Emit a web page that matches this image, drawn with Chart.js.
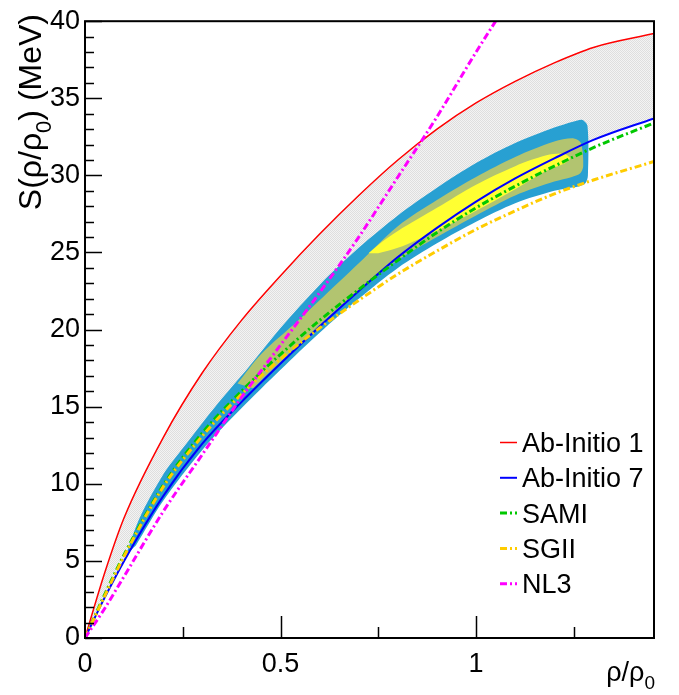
<!DOCTYPE html>
<html>
<head>
<meta charset="utf-8">
<script src="https://cdn.jsdelivr.net/npm/chart.js@4.4.0/dist/chart.umd.min.js"></script>
<style>
  html, body { margin: 0; padding: 0; background: #fff; }
  #wrap { width: 679px; height: 695px; }
</style>
</head>
<body>
<div id="wrap"><canvas id="graph01" width="679" height="695"></canvas></div>
<script>
// density grid (rho/rho0) shared by the model curves
const rhoGrid = [0, 0.05, 0.1, 0.2, 0.3, 0.4, 0.5, 0.6, 0.7, 0.8, 0.9, 1.0, 1.1, 1.2, 1.3, 1.455];

const abInitio1 = [0, 4.2, 7.8, 13.0, 17.2, 20.6, 23.5, 26.2, 28.7, 31.0, 33.0, 34.7, 36.1, 37.3, 38.3, 39.2];
const abInitio7 = [0, 2.6, 5.0, 9.2, 12.6, 15.3, 17.8, 20.2, 22.5, 24.7, 26.6, 28.3, 29.8, 31.1, 32.3, 33.7];
const sami = [0, 2.8, 5.4, 9.9, 13.3, 16.0, 18.4, 20.6, 22.6, 24.5, 26.3, 27.9, 29.3, 30.6, 31.8, 33.4];
const sgii = [0, 2.7, 5.3, 9.8, 13.1, 15.8, 18.1, 20.1, 21.9, 23.6, 25.1, 26.5, 27.7, 28.8, 29.7, 30.9];

// NL3 leaves the frame at the top
const nl3Rho = [0, 0.05, 0.1, 0.2, 0.3, 0.4, 0.5, 0.6, 0.7, 0.8, 0.9, 1.0, 1.05];
const nl3 = [0, 1.9, 4.0, 8.2, 11.9, 15.6, 19.0, 22.4, 26.0, 29.9, 33.8, 38.0, 40.0];

// constraint contours (outer, middle, inner), traced as closed outlines
const contour1Rho = [0.105, 0.14, 0.2, 0.25, 0.33, 0.42, 0.5, 0.6, 0.7, 0.8, 0.9, 1.0, 1.1, 1.2, 1.25, 1.272, 1.285, 1.286, 1.28, 1.265, 1.24, 1.2, 1.1, 1.0, 0.9, 0.8, 0.7, 0.6, 0.5, 0.4, 0.3, 0.2, 0.13];
const contour1S = [5.4, 7.8, 10.6, 12.3, 14.9, 17.6, 20.1, 22.9, 25.3, 27.4, 29.2, 30.8, 32.1, 33.1, 33.5, 33.6, 33.2, 30.0, 29.5, 29.3, 29.2, 29.0, 28.2, 27.0, 25.6, 24.0, 22.0, 19.8, 17.4, 14.9, 12.2, 8.9, 6.0];

const contour2Rho = [0.39, 0.45, 0.546, 0.6, 0.7, 0.8, 0.9, 1.0, 1.1, 1.2, 1.25, 1.268, 1.274, 1.265, 1.245, 1.2, 1.1, 1.0, 0.9, 0.8, 0.7, 0.6, 0.5, 0.43];
const contour2S = [16.5, 18.4, 20.6, 21.9, 24.3, 26.7, 28.4, 29.9, 31.2, 32.2, 32.4, 32.1, 30.6, 30.1, 29.9, 29.6, 28.7, 27.4, 26.0, 24.5, 22.5, 20.3, 17.9, 16.2];

const contour3Rho = [0.725, 0.76, 0.8, 0.9, 1.0, 1.1, 1.18, 1.225, 1.24, 1.22, 1.18, 1.1, 1.0, 0.9, 0.8, 0.75];
const contour3S = [24.95, 25.7, 26.4, 27.9, 29.4, 30.6, 31.3, 31.4, 31.1, 30.7, 30.3, 29.1, 27.7, 26.4, 25.3, 24.95];

const xTicks = { min: 0, max: 1.455, step: 0.5, minor: 0.25 };
const yTicks = { min: 0, max: 40, step: 5, minor: 1 };

const legendLabels = ['Ab-Initio 1', 'Ab-Initio 7', 'SAMI', 'SGII', 'NL3'];

const FONT = '"Liberation Sans", Arial, Helvetica, sans-serif';

function toPoints(xs, ys) {
  return xs.map((x, i) => ({ x: x, y: ys[i] }));
}

const canvas = document.getElementById('graph01');
const mainCtx = canvas.getContext('2d');

// light grey checker, like the ROOT hatch of the band
function makeHatch() {
  const c = document.createElement('canvas');
  c.width = 2; c.height = 2;
  const g = c.getContext('2d');
  g.fillStyle = '#f3f3f3';
  g.fillRect(0, 0, 2, 2);
  g.fillStyle = '#dedede';
  g.fillRect(0, 0, 1, 1);
  g.fillRect(1, 1, 1, 1);
  return mainCtx.createPattern(c, 'repeat');
}

const dashDot = [7, 3, 2, 3];

const datasets = [
  {
    label: 'NL3', data: toPoints(nl3Rho, nl3),
    borderColor: 'rgb(255,0,255)', borderWidth: 3, borderDash: dashDot,
    cubicInterpolationMode: 'monotone', fill: false, order: 0
  },
  {
    label: 'SGII', data: toPoints(rhoGrid, sgii),
    borderColor: 'rgb(255,204,0)', borderWidth: 3, borderDash: dashDot,
    cubicInterpolationMode: 'monotone', fill: false, order: 1
  },
  {
    label: 'SAMI', data: toPoints(rhoGrid, sami),
    borderColor: 'rgb(0,200,0)', borderWidth: 3, borderDash: dashDot,
    cubicInterpolationMode: 'monotone', fill: false, order: 2
  },
  {
    label: 'Ab-Initio 7', data: toPoints(rhoGrid, abInitio7),
    borderColor: 'rgb(0,0,255)', borderWidth: 2,
    cubicInterpolationMode: 'monotone', fill: false, order: 3
  },
  {
    label: 'inner', data: toPoints(contour3Rho, contour3S),
    borderWidth: 0, backgroundColor: 'rgb(255,255,50)', tension: 0.3,
    fill: 'shape', order: 5
  },
  {
    label: 'middle', data: toPoints(contour2Rho, contour2S),
    borderWidth: 0, backgroundColor: 'rgb(178,196,112)', tension: 0.3,
    fill: 'shape', order: 6
  },
  {
    label: 'outer', data: toPoints(contour1Rho, contour1S),
    borderWidth: 0, backgroundColor: 'rgb(40,160,210)', tension: 0.3,
    fill: 'shape', order: 7
  },
  {
    label: 'Ab-Initio 1', data: toPoints(rhoGrid, abInitio1),
    borderColor: 'rgb(255,0,0)', borderWidth: 1.5,
    cubicInterpolationMode: 'monotone',
    fill: { target: 3 }, backgroundColor: makeHatch(), order: 8
  }
];

function drawParts(ctx, parts, size) {
  let w = 0;
  parts.forEach(p => {
    ctx.font = (p.sub ? Math.round(size * 0.7) : size) + 'px ' + FONT;
    w += ctx.measureText(p.t).width;
  });
  let x = -w;
  parts.forEach(p => {
    ctx.font = (p.sub ? Math.round(size * 0.7) : size) + 'px ' + FONT;
    ctx.fillText(p.t, x, p.sub ? size * 0.3 : 0);
    x += ctx.measureText(p.t).width;
  });
}

const rootStyle = {
  id: 'rootStyle',
  afterDatasetsDraw(chart) {
    const ctx = chart.ctx;
    const a = chart.chartArea;
    const xs = chart.scales.x, ys = chart.scales.y;
    ctx.save();
    ctx.strokeStyle = '#000';
    ctx.lineWidth = 2;
    ctx.setLineDash([]);
    ctx.strokeRect(a.left, a.top, a.right - a.left, a.bottom - a.top);
    ctx.lineWidth = 1.5;
    ctx.beginPath();
    for (let v = yTicks.min; v <= yTicks.max + 1e-9; v += yTicks.minor) {
      const py = Math.round(ys.getPixelForValue(v)) + 0.5;
      const len = Math.abs(v % yTicks.step) < 1e-6 ? 17 : 9;
      ctx.moveTo(a.left, py);
      ctx.lineTo(a.left + len, py);
    }
    for (let v = xTicks.minor; v <= xTicks.max; v += xTicks.minor) {
      const px = Math.round(xs.getPixelForValue(v)) + 0.5;
      const len = Math.abs(v / xTicks.step - Math.round(v / xTicks.step)) < 1e-6 ? 22 : 11;
      ctx.moveTo(px, a.bottom);
      ctx.lineTo(px, a.bottom - len);
    }
    ctx.stroke();
    ctx.restore();
  },
  afterDraw(chart) {
    const ctx = chart.ctx;
    ctx.save();
    ctx.fillStyle = '#000';
    ctx.textBaseline = 'alphabetic';
    ctx.textAlign = 'left';

    // y title, rotated, flush with the top of the frame
    ctx.save();
    ctx.translate(41, 14);
    ctx.rotate(-Math.PI / 2);
    drawParts(ctx, [{ t: 'S(ρ/ρ' }, { t: '0', sub: true }, { t: ') (MeV)' }], 32);
    ctx.restore();

    // x title, flush with the right of the frame
    ctx.save();
    ctx.translate(655, 681);
    drawParts(ctx, [{ t: 'ρ/ρ' }, { t: '0', sub: true }], 27);
    ctx.restore();

    // legend
    ctx.font = '27px ' + FONT;
    legendLabels.forEach((name, i) => {
      const ds = chart.data.datasets.find(d => d.label === name);
      const base = 452 + i * 35.3;
      ctx.strokeStyle = ds.borderColor;
      ctx.lineWidth = ds.borderWidth;
      ctx.setLineDash(ds.borderDash || []);
      ctx.beginPath();
      ctx.moveTo(500, base - 9.5);
      ctx.lineTo(517, base - 9.5);
      ctx.stroke();
      ctx.fillText(name, 522, base);
    });
    ctx.restore();
  }
};

new Chart(canvas, {
  type: 'line',
  data: { datasets: datasets },
  options: {
    responsive: false,
    devicePixelRatio: 1,
    animation: false,
    layout: { padding: { top: 16, right: 25, left: 0, bottom: 0 } },
    elements: { point: { radius: 0, hoverRadius: 0 } },
    plugins: {
      legend: { display: false },
      tooltip: { enabled: false },
      filler: { propagate: false }
    },
    scales: {
      x: {
        type: 'linear',
        min: xTicks.min, max: xTicks.max,
        grid: { display: false, drawTicks: false },
        border: { display: false },
        ticks: {
          stepSize: xTicks.step, includeBounds: false, padding: 10,
          color: '#000', font: { family: FONT, size: 27 }, maxRotation: 0,
          callback: v => String(+v.toFixed(2))
        },
        afterFit(scale) { scale.height = 57; }
      },
      y: {
        min: yTicks.min, max: yTicks.max,
        grid: { display: false, drawTicks: false },
        border: { display: false },
        ticks: {
          stepSize: yTicks.step, includeBounds: false, padding: 5,
          color: '#000', font: { family: FONT, size: 27 }
        },
        afterFit(scale) { scale.width = 85; }
      }
    }
  },
  plugins: [rootStyle]
});
</script>
</body>
</html>
